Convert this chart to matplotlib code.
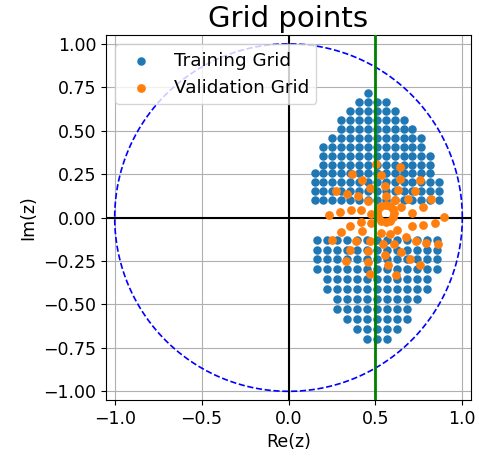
# Training / validation grid points in the complex plane

import numpy as np
import matplotlib.pyplot as plt
plt.close('all')

# Training grid, upper half: column positions, row positions, and the
# first/last column used on each row (bottom row first)
up_x = [0.150, 0.201, 0.252, 0.304, 0.355, 0.406, 0.457, 0.508,
        0.560, 0.611, 0.662, 0.713, 0.764, 0.816, 0.867]
up_y = [0.100, 0.151, 0.202, 0.254, 0.305, 0.356, 0.407, 0.458,
        0.510, 0.561, 0.612, 0.663, 0.714]
up_cols = [(0, 14), (0, 14), (0, 14), (0, 13), (1, 13), (1, 13), (1, 12),
           (2, 12), (3, 11), (3, 10), (4, 9), (5, 8), (6, 6)]

# Training grid, lower half (top row first)
lo_x = [0.163, 0.221, 0.278, 0.336, 0.394, 0.452, 0.509,
        0.567, 0.625, 0.682, 0.740, 0.798, 0.855]
lo_y = [-0.127, -0.184, -0.241, -0.298, -0.355, -0.412, -0.469,
        -0.526, -0.583, -0.640, -0.697]
lo_cols = [(0, 12), (0, 12), (0, 12), (0, 12), (1, 11), (1, 11), (2, 10),
           (2, 9), (3, 9), (4, 8), (5, 7)]

# Validation grid
val_x = [0.505, 0.643, 0.367, 0.424, 0.532, 0.643, 0.755, 0.271, 0.337,
         0.467, 0.399, 0.457, 0.556, 0.630, 0.726, 0.563, 0.614, 0.690,
         0.822, 0.774, 0.650,
         0.231, 0.294, 0.357, 0.418, 0.477, 0.713, 0.897,
         0.607, 0.601, 0.583, 0.559, 0.535, 0.517, 0.511, 0.517, 0.535,
         0.559, 0.583, 0.601,
         0.415, 0.473, 0.352, 0.300, 0.425, 0.534, 0.582, 0.624, 0.713,
         0.772, 0.841, 0.252, 0.390, 0.471, 0.542, 0.609, 0.674, 0.732,
         0.791, 0.861, 0.356, 0.457, 0.553, 0.650, 0.699, 0.333, 0.457,
         0.571, 0.757, 0.467, 0.617]
val_y = [0.307, 0.290, 0.250, 0.216, 0.244, 0.224, 0.215, 0.152, 0.138,
         0.173, 0.123, 0.096, 0.183, 0.157, 0.154, 0.123, 0.100, 0.104,
         0.104, 0.061, 0.061,
         0.013, 0.032, 0.042, 0.045, 0.023, 0.027, 0.002,
         0.025, 0.049, 0.067, 0.073, 0.067, 0.049, 0.025, 0.001, -0.017,
         -0.023, -0.017, 0.001,
         -0.025, -0.030, -0.047, -0.083, -0.079, -0.088, -0.096, -0.073, -0.046,
         -0.044, -0.030, -0.128, -0.134, -0.134, -0.154, -0.150, -0.111, -0.137,
         -0.148, -0.155, -0.187, -0.191, -0.217, -0.196, -0.236, -0.252, -0.256,
         -0.275, -0.271, -0.324, -0.333]

train = []
for xs, ys, cols in [(up_x, up_y, up_cols), (lo_x, lo_y, lo_cols)]:
    for y, (a, b) in zip(ys, cols):
        for x in xs[a:b + 1]:
            train.append((x, y))
train = np.array(train)

plt.rcParams['font.size'] = 12.5

fig = plt.figure(figsize=(4.79, 4.59), dpi=100)
ax = fig.add_axes([0.2213, 0.1285, 0.762, 0.795])

theta = np.linspace(0, 2 * np.pi, 400)
ax.plot(np.cos(theta), np.sin(theta), 'b--', lw=1.2)

ax.scatter(train[:, 0], train[:, 1], s=26, color='tab:blue', label='Training Grid', zorder=3)
ax.scatter(val_x, val_y, s=28, color='tab:orange', label='Validation Grid', zorder=3)

ax.axhline(0, color='k', lw=1.5, zorder=2)
ax.axvline(0, color='k', lw=1.5, zorder=2)
ax.axvline(0.5, color='green', lw=2, zorder=4)

ax.set_xlim(-1.05, 1.05)
ax.set_ylim(-1.05, 1.05)
ax.set_xticks([-1.0, -0.5, 0.0, 0.5, 1.0])
ax.set_yticks([-1.0, -0.75, -0.5, -0.25, 0.0, 0.25, 0.5, 0.75, 1.0])
ax.set_yticklabels(['−1.00', '−0.75', '−0.50', '−0.25', '0.00', '0.25', '0.50', '0.75', '1.00'])
ax.grid(True)
ax.set_axisbelow(True)
ax.set_xlabel('Re(z)')
ax.set_ylabel('Im(z)')
ax.set_title('Grid points', fontsize=21)
ax.legend(loc='upper left', fontsize=13.2)

fig.savefig('out.png', dpi=100)
